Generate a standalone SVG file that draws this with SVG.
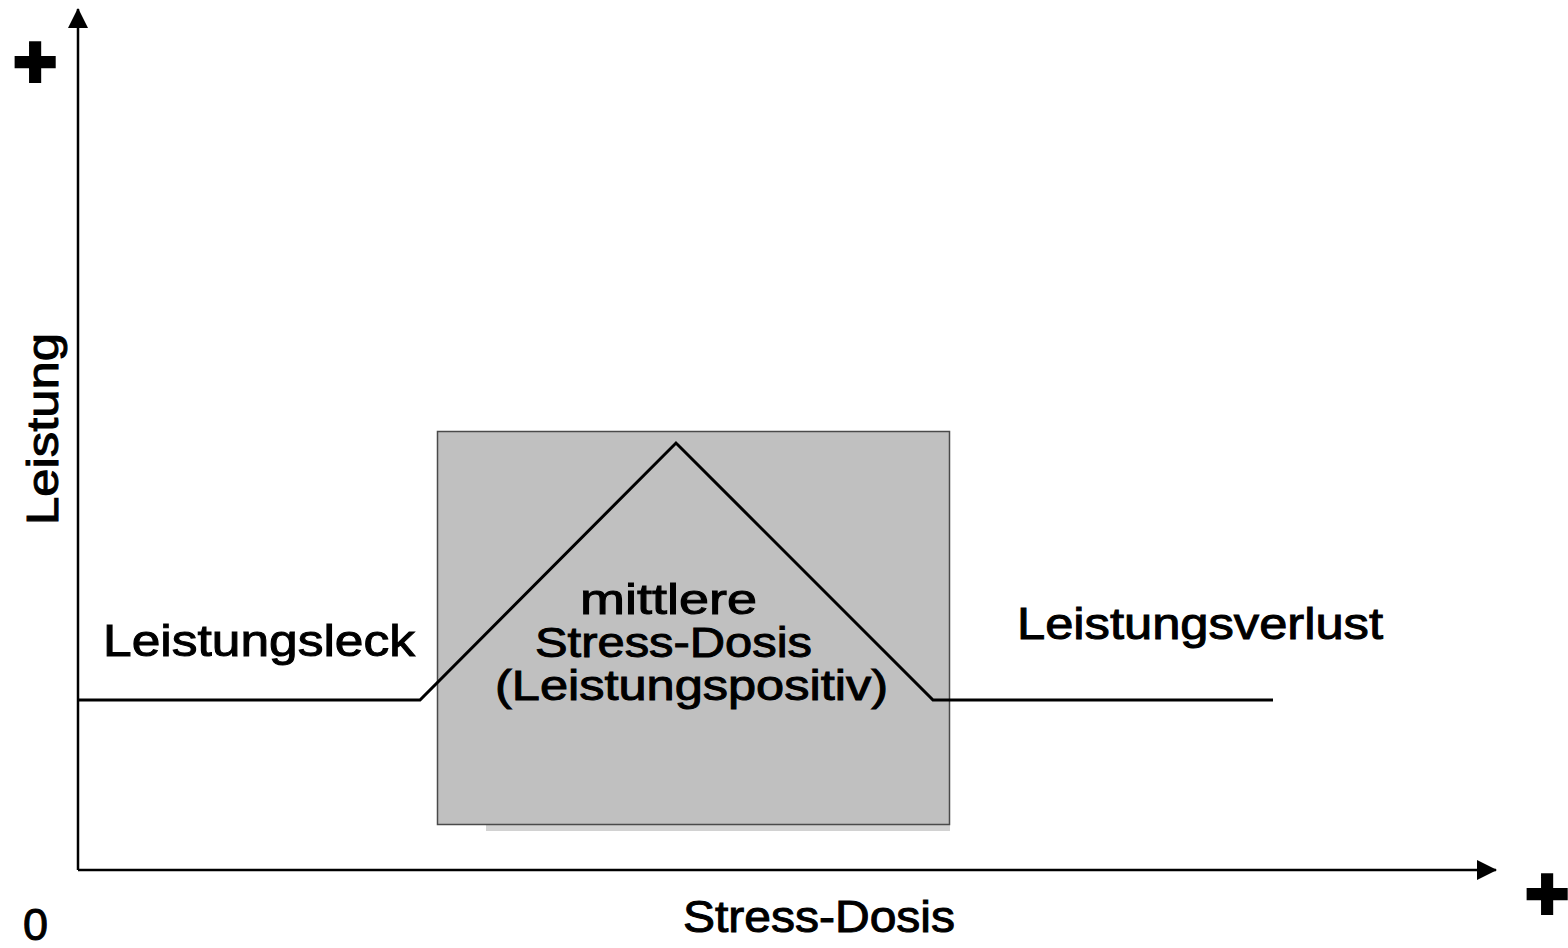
<svg xmlns="http://www.w3.org/2000/svg" width="1568" height="948" viewBox="0 0 1568 948">
  <style>
    .lbl { font-family: "Liberation Sans", Arial, sans-serif; font-size: 45px; fill: #000; stroke: #000; stroke-width: 1; }
    .mid { font-size: 43px; }
    .sign { font-family: "Liberation Sans", Arial, sans-serif; font-weight: bold; font-size: 74px; fill: #000; stroke: #000; stroke-width: 4; text-anchor: middle; }
    .axis { stroke: #000; stroke-width: 2.5; fill: none; }
    .curve { stroke: #000; stroke-width: 3; fill: none; stroke-linejoin: miter; }
  </style>
  <defs>
    <marker id="arrow" viewBox="0 0 20 20" refX="19" refY="10" markerWidth="20" markerHeight="20" markerUnits="userSpaceOnUse" orient="auto">
      <path d="M0,0 L20,10 L0,20 Z" fill="#000"/>
    </marker>
  </defs>

  <!-- optimum zone: shaded box with drop shadow -->
  <g id="optimum-zone">
    <rect x="486" y="825" width="464" height="6" fill="#d2d2d2"/>
    <rect x="437.5" y="431.5" width="512" height="393" fill="#c0c0c0" stroke="#4a4a4a" stroke-width="1.5"/>
    <text class="lbl mid" x="580" y="614" textLength="177" lengthAdjust="spacingAndGlyphs">mittlere</text>
    <text class="lbl mid" x="535" y="657" textLength="277" lengthAdjust="spacingAndGlyphs">Stress-Dosis</text>
    <text class="lbl mid" x="495" y="700" textLength="393" lengthAdjust="spacingAndGlyphs">(Leistungspositiv)</text>
  </g>

  <!-- axes -->
  <g id="connectors">
    <path class="axis" d="M78,870 L78,9" marker-end="url(#arrow)"/>
    <path class="axis" d="M78,870 L1496,870" marker-end="url(#arrow)"/>
    <!-- performance curve -->
    <path class="curve" d="M78,700 L420,700 L676,443 L933,700 L1273,700"/>
  </g>

  <g id="label-left">
    <text class="lbl" x="103" y="656" textLength="312" lengthAdjust="spacingAndGlyphs">Leistungsleck</text>
  </g>
  <g id="label-right">
    <text class="lbl" x="1017" y="639" textLength="366" lengthAdjust="spacingAndGlyphs">Leistungsverlust</text>
  </g>
  <g id="x-label">
    <text class="lbl" x="683" y="932" textLength="272" lengthAdjust="spacingAndGlyphs">Stress-Dosis</text>
  </g>
  <g id="y-label">
    <text class="lbl" transform="translate(58,525) rotate(-90)" x="0" y="0" textLength="192" lengthAdjust="spacingAndGlyphs">Leistung</text>
  </g>

  <g id="axis-marks">
    <text class="sign" x="35" y="87">+</text>
    <text class="sign" x="1547" y="919">+</text>
    <text class="lbl" x="23" y="940">0</text>
  </g>
</svg>
